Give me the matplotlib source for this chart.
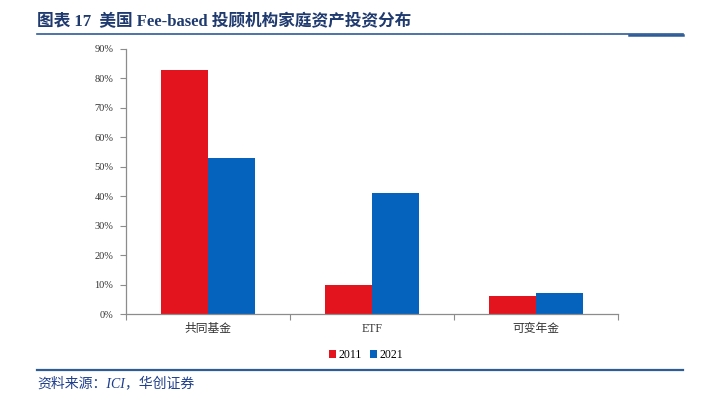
import matplotlib
matplotlib.use("Agg")
import matplotlib.pyplot as plt
import numpy as np
from matplotlib.lines import Line2D
from matplotlib.ticker import PercentFormatter, FixedLocator, NullFormatter

categories = ["共同基金", "ETF", "可变年金"]
series_names = ["2011", "2021"]
values_2011 = [83, 10, 6]
values_2021 = [53, 41, 7]
yticks = [0, 10, 20, 30, 40, 50, 60, 70, 80, 90]

FAM = ["Liberation Serif", "Noto Sans CJK SC", "DejaVu Sans"]
plt.rcParams["font.family"] = FAM

RED = "#E3141E"
BLUE = "#0563BE"
NAVY = "#2E5C97"
TITLE = "#1F3A6E"
GRAY = "#8C8C8C"

fig = plt.figure(figsize=(7.04, 4.03), dpi=100)
ax = fig.add_axes([126/704, 1-314/403, 492/704, 265/403])

x = np.arange(len(categories))
w = 0.287
ax.bar(x - w/2, values_2011, w, color=RED, label=series_names[0])
ax.bar(x + w/2, values_2021, w, color=BLUE, label=series_names[1])

ax.set_xlim(-0.5, len(categories) - 0.5)
ax.set_ylim(0, 90)
ax.set_yticks(yticks)
ax.yaxis.set_major_formatter(PercentFormatter(decimals=0))
ax.xaxis.set_major_locator(FixedLocator([-0.5, 0.5, 1.5, 2.5]))
ax.xaxis.set_major_formatter(NullFormatter())
for i, c in enumerate(categories):
    ax.text(i, -0.035, c, transform=ax.get_xaxis_transform(), ha="center", va="top",
            fontsize=8.5, color="#333333", family=FAM)

for s in ["top", "right"]:
    ax.spines[s].set_visible(False)
for s in ["left", "bottom"]:
    ax.spines[s].set_color(GRAY)
    ax.spines[s].set_linewidth(0.9)
ax.tick_params(axis="y", length=4, width=0.8, color=GRAY, labelsize=7.5, labelcolor="#333333", pad=5)
ax.tick_params(axis="x", length=4, width=0.8, color=GRAY, direction="out")

leg = ax.legend(loc="center", bbox_to_anchor=(366/704, 1-355/403), bbox_transform=fig.transFigure,
                ncol=2, frameon=False, fontsize=8.5, handlelength=0.6, handleheight=0.6,
                handletextpad=0.2, columnspacing=0.7, borderaxespad=0, borderpad=0)

# title and rules
fig.text(37/704, 1-22/403, "图表 17  美国 Fee-based 投顾机构家庭资产投资分布", ha="left", va="center",
         fontsize=12, fontweight="bold", color=TITLE, family=FAM)
fig.add_artist(Line2D([37/704, 683/704], [1-34/403]*2, transform=fig.transFigure, color=NAVY, lw=1.2))
fig.add_artist(Line2D([629/704, 683/704], [1-34.6/403]*2, transform=fig.transFigure, color=NAVY, lw=1.8))
fig.add_artist(Line2D([37/704, 683/704], [1-370/403]*2, transform=fig.transFigure, color=NAVY, lw=1.6))
fig.text(37/704, 1-383/403, "资料来源：ICI，华创证券", ha="left", va="center",
         fontsize=10, style="italic", color="#1F3F8C", family=FAM)

fig.savefig("out.png", dpi=100)
